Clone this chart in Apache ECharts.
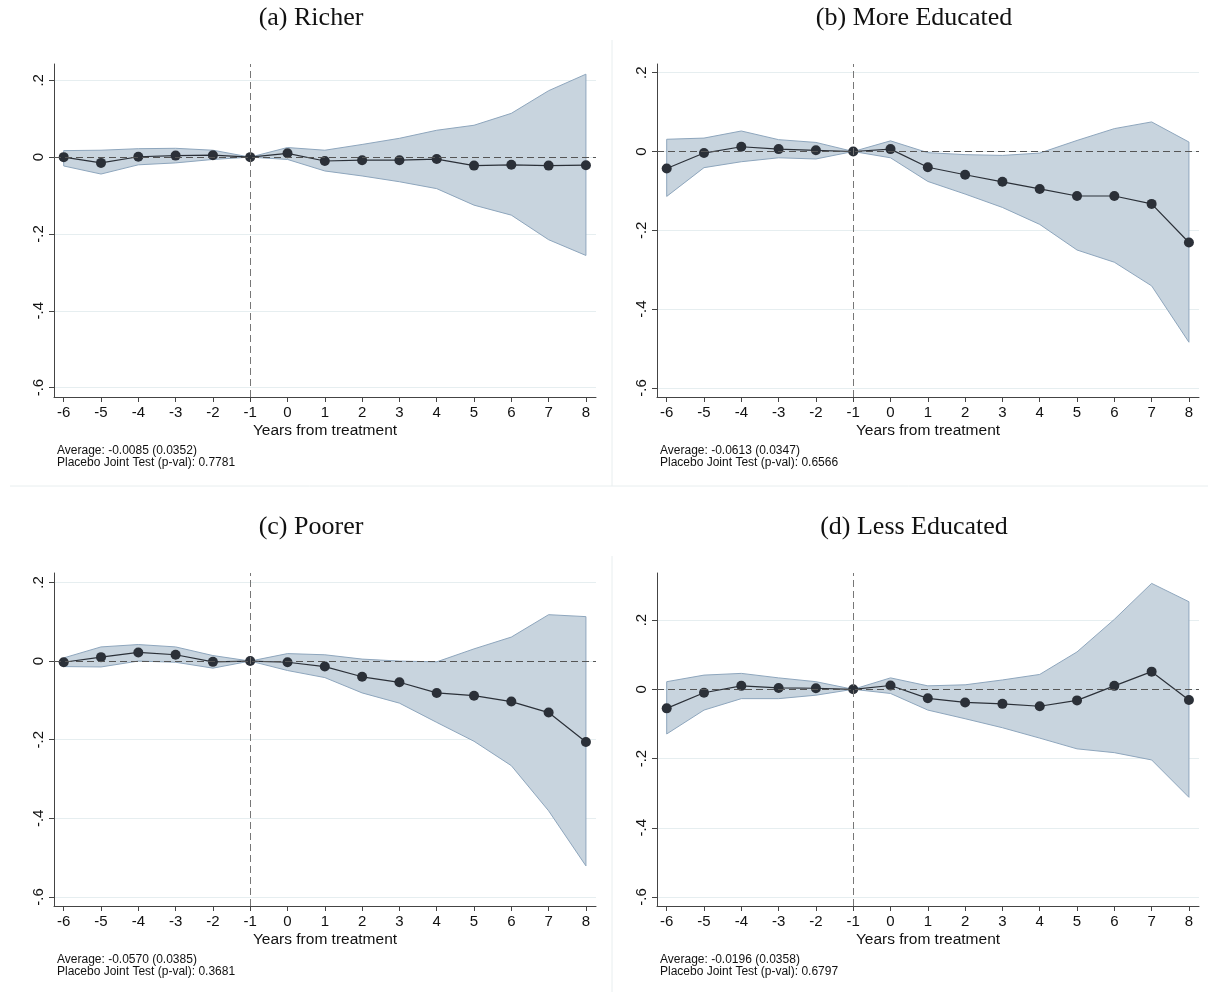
<!DOCTYPE html>
<html>
<head>
<meta charset="utf-8">
<title>Event study by group</title>
<script src="https://cdn.jsdelivr.net/npm/echarts@6/dist/echarts.min.js"></script>
<style>
  html, body { margin: 0; padding: 0; background: #fff; }
  #main { width: 1208px; height: 992px; }
</style>
</head>
<body>
<div id="main"></div>
<script>
// years from treatment
const years = [-6, -5, -4, -3, -2, -1, 0, 1, 2, 3, 4, 5, 6, 7, 8];
const xTicks = [-6, -5, -4, -3, -2, -1, 0, 1, 2, 3, 4, 5, 6, 7, 8];
const yTicks = [-0.6, -0.4, -0.2, 0, 0.2];

// (a) Richer
const richerCoef = [0, -0.015, 0.001, 0.004, 0.005, 0, 0.01, -0.01, -0.008, -0.008, -0.005, -0.022, -0.02, -0.022, -0.021];
const richerHi = [0.017, 0.018, 0.022, 0.023, 0.018, 0, 0.025, 0.018, 0.033, 0.049, 0.07, 0.083, 0.114, 0.173, 0.216];
const richerLo = [-0.023, -0.044, -0.02, -0.015, -0.006, 0, -0.006, -0.036, -0.049, -0.064, -0.082, -0.125, -0.151, -0.215, -0.256];

// (b) More Educated
const moreEduCoef = [-0.043, -0.004, 0.012, 0.006, 0.003, 0, 0.006, -0.04, -0.059, -0.077, -0.095, -0.113, -0.113, -0.133, -0.231];
const moreEduHi = [0.031, 0.034, 0.052, 0.03, 0.023, 0, 0.027, -0.003, -0.008, -0.01, -0.004, 0.028, 0.058, 0.075, 0.024];
const moreEduLo = [-0.114, -0.041, -0.026, -0.016, -0.019, 0, -0.016, -0.076, -0.108, -0.142, -0.185, -0.25, -0.281, -0.341, -0.484];

// (c) Poorer
const poorerCoef = [-0.003, 0.01, 0.022, 0.016, -0.002, 0, -0.003, -0.014, -0.04, -0.054, -0.081, -0.088, -0.103, -0.131, -0.206];
const poorerHi = [0.008, 0.036, 0.042, 0.036, 0.014, 0, 0.019, 0.016, 0.005, 0.0, -0.002, 0.031, 0.061, 0.118, 0.113];
const poorerLo = [-0.014, -0.015, 0.0, -0.003, -0.018, 0, -0.024, -0.042, -0.081, -0.107, -0.156, -0.204, -0.266, -0.381, -0.521];

// (d) Less Educated
const lessEduCoef = [-0.055, -0.01, 0.01, 0.004, 0.003, 0, 0.011, -0.026, -0.038, -0.042, -0.049, -0.032, 0.01, 0.051, -0.031];
const lessEduHi = [0.022, 0.041, 0.046, 0.033, 0.022, 0, 0.033, 0.01, 0.013, 0.027, 0.043, 0.108, 0.202, 0.306, 0.253];
const lessEduLo = [-0.129, -0.06, -0.027, -0.027, -0.017, 0, -0.012, -0.06, -0.085, -0.111, -0.141, -0.172, -0.183, -0.204, -0.312];

const panelTitles = ['(a) Richer', '(b) More Educated', '(c) Poorer', '(d) Less Educated'];
const panelNotes = [
  'Average: -0.0085 (0.0352)\nPlacebo Joint Test (p-val): 0.7781',
  'Average: -0.0613 (0.0347)\nPlacebo Joint Test (p-val): 0.6566',
  'Average: -0.0570 (0.0385)\nPlacebo Joint Test (p-val): 0.3681',
  'Average: -0.0196 (0.0358)\nPlacebo Joint Test (p-val): 0.6797'
];
const panelYMax = [0.2425, 0.222, 0.224, 0.336];
const panelYMin = [-0.6245, -0.623, -0.623, -0.626];

const panels = [
  { coef: richerCoef, lo: richerLo, hi: richerHi, left: 54, top: 64 },
  { coef: moreEduCoef, lo: moreEduLo, hi: moreEduHi, left: 657, top: 64 },
  { coef: poorerCoef, lo: poorerLo, hi: poorerHi, left: 54, top: 573 },
  { coef: lessEduCoef, lo: lessEduLo, hi: lessEduHi, left: 657, top: 573 }
];

const font = "'Liberation Sans', Arial, sans-serif";
const dark = '#2b3038';

function stataNum(v) {
  if (Math.abs(v) < 1e-9) return '0';
  return (v < 0 ? '-' : '') + String(+Math.abs(v).toFixed(2)).replace(/^0/, '');
}

// CI band drawn as one polygon from the lo/hi arrays
function bandRender(lo, hi) {
  return function (params, api) {
    if (params.dataIndex !== 0) return null;
    const pts = [];
    for (let i = 0; i < years.length; i++) pts.push(api.coord([years[i], hi[i]]));
    for (let i = years.length - 1; i >= 0; i--) pts.push(api.coord([years[i], lo[i]]));
    return {
      type: 'polygon',
      shape: { points: pts },
      style: { fill: '#c8d4de', stroke: '#8ea6bd', lineWidth: 1 }
    };
  };
}

const grid = [], xAxis = [], yAxis = [], series = [], graphic = [];

panels.forEach((p, k) => {
  grid.push({ left: p.left, top: p.top, width: 542, height: 333 });
  xAxis.push({
    type: 'value', gridIndex: k, min: -6.26, max: 8.27,
    name: 'Years from treatment', nameLocation: 'middle', nameGap: 26,
    nameTextStyle: { fontFamily: font, fontSize: 15.5, color: '#111' },
    axisLine: { show: true, onZero: false, lineStyle: { color: '#444', width: 1 } },
    axisTick: { show: true, length: 5, customValues: xTicks, lineStyle: { color: '#444' } },
    axisLabel: { customValues: xTicks, fontFamily: font, fontSize: 15, color: '#111', margin: 8,
                 formatter: v => String(v) },
    splitLine: { show: false }
  });
  yAxis.push({
    type: 'value', gridIndex: k, min: panelYMin[k], max: panelYMax[k],
    axisLine: { show: true, onZero: false, lineStyle: { color: '#444', width: 1 } },
    axisTick: { show: true, length: 5, customValues: yTicks, lineStyle: { color: '#444' } },
    axisLabel: { customValues: yTicks, rotate: 90, fontFamily: font, fontSize: 15, color: '#111',
                 margin: 8, formatter: stataNum },
    splitLine: { show: true, lineStyle: { color: '#e6eef0', width: 1 } }
  });
  series.push({
    type: 'custom', xAxisIndex: k, yAxisIndex: k, z: 1, silent: true,
    data: years.map((x, i) => [x, p.lo[i], p.hi[i]]),
    encode: { x: 0, y: [1, 2] },
    renderItem: bandRender(p.lo, p.hi)
  });
  series.push({
    type: 'line', xAxisIndex: k, yAxisIndex: k, z: 3,
    data: years.map((x, i) => [x, p.coef[i]]),
    symbol: 'circle', symbolSize: 10,
    itemStyle: { color: dark },
    lineStyle: { color: dark, width: 1.2 },
    animation: false,
    markLine: {
      silent: true, symbol: 'none', label: { show: false }, animation: false,
      data: [
        { yAxis: 0, lineStyle: { color: '#555', type: [7, 4], width: 1 } },
        { xAxis: -1, lineStyle: { color: '#777', type: [7, 4], width: 1 } }
      ]
    }
  });

  // panel title and the note under the axis
  graphic.push({
    type: 'text', x: p.left + 257, y: p.top - 46,
    style: { text: panelTitles[k], font: "26px 'Liberation Serif', 'Times New Roman', serif", fill: '#111',
             textAlign: 'center', textVerticalAlign: 'middle' }
  });
  graphic.push({
    type: 'text', x: p.left + 3, y: p.top + 381,
    style: { text: panelNotes[k], font: '12px ' + font, fill: '#111', lineHeight: 12 }
  });
});

// faint borders between the sub-figures
graphic.push({ type: 'line', shape: { x1: 612, y1: 40, x2: 612, y2: 486 }, style: { stroke: '#e8eeef', lineWidth: 1 } });
graphic.push({ type: 'line', shape: { x1: 612, y1: 556, x2: 612, y2: 992 }, style: { stroke: '#e8eeef', lineWidth: 1 } });
graphic.push({ type: 'line', shape: { x1: 10, y1: 486, x2: 1208, y2: 486 }, style: { stroke: '#e8eeef', lineWidth: 1 } });

const chart = echarts.init(document.getElementById('main'));
chart.setOption({
  animation: false,
  backgroundColor: '#fff',
  grid: grid,
  xAxis: xAxis,
  yAxis: yAxis,
  series: series,
  graphic: graphic
});
</script>
</body>
</html>
